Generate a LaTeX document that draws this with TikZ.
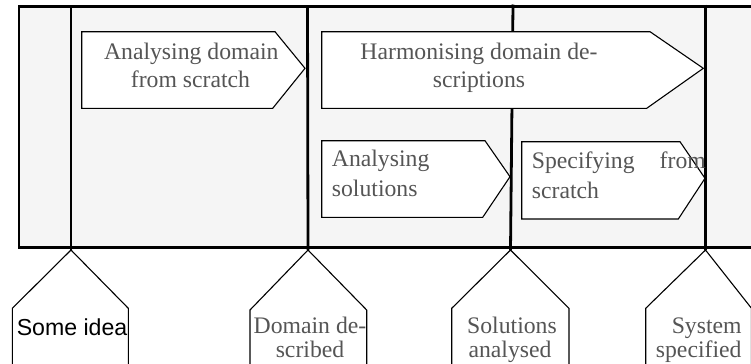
\documentclass[tikz,border=0pt]{standalone}
\usepackage{fontspec}
\setmainfont{Liberation Serif}
\newfontfamily\arialfont{Liberation Sans}
\definecolor{panel}{HTML}{F5F5F5}
\definecolor{ink}{HTML}{555555}
\tikzset{
  frame/.style={line width=2.8bp, line join=miter},
  phase/.style={line width=1.1bp, fill=white, line join=miter},
  milestone/.style={line width=1.1bp, fill=white, line join=miter},
  lbl/.style={inner sep=0pt, text=ink, font=\fontsize{23.8}{28}\selectfont, anchor=base},
  lbll/.style={lbl, anchor=base west},
}
\begin{document}
\begin{tikzpicture}[x=1bp, y=-1bp]
\useasboundingbox (0,0) rectangle (751,363);
\clip (0,0) rectangle (751,363);

% frame of the process lane
\fill[panel] (19,6.5) rectangle (760,247.5);
\draw[frame] (19,6.5) -- (760,6.5);
\draw[frame] (19,247.5) -- (760,247.5);
\draw[frame] (19,5.2) -- (19,248.8);

% milestone dividers
\coordinate (t1) at (71,6.5);   \coordinate (a1) at (71,250);
\coordinate (t2) at (307.5,6.5);  \coordinate (a2) at (308,250);
\coordinate (t3) at (513,4.5);  \coordinate (a3) at (510.5,250);
\coordinate (t4) at (705.5,4.5);  \coordinate (a4) at (705.5,250);
\draw[frame] (t1) -- (a1);
\draw[frame] (t2) -- (a2);
\draw[frame] (t3) -- (a3);
\draw[frame] (t4) -- (a4);

% phase arrows
\draw[phase] (81.7,31.7) -- (275,31.7) -- (305,68.3) -- (272.7,108.3) -- (81.7,108.3) -- cycle;
\draw[phase] (321.7,31.7) -- (650,31.7) -- (703.3,68.3) -- (646.7,108.3) -- (321.7,108.3) -- cycle;
\draw[phase] (321.7,140.7) -- (485,140.7) -- (510,176.7) -- (482.7,217.3) -- (321.7,217.3) -- cycle;
\draw[phase] (521.7,141.7) -- (680,141.7) -- (705,178.3) -- (678.3,219) -- (521.7,219) -- cycle;

\node[lbl] (p1a) at (191.3,59.3) {Analysing domain};
\node[lbl] (p1b) at (190.5,87.7) {from scratch};
\node[lbl] (p2a) at (479,59.3) {Harmonising domain de-};
\node[lbl] (p2b) at (479,87.7) {scriptions};
\node[lbll] (p3a) at (331.7,166.7) {Analysing};
\node[lbll] (p3b) at (331.7,196.7) {solutions};
\node[lbll] (p4a) at (531.7,168.3) {Specifying};
\node[lbl, anchor=base east] (p4c) at (706,168.3) {from};
\node[lbll] (p4b) at (531.7,198.3) {scratch};

% milestones
\draw[milestone] (12.3,375) -- (12.3,308.3) -- (a1) -- (128.3,308.3) -- (128.3,375);
\draw[milestone] (250,375) -- (250,310) -- (a2) -- (366.7,310) -- (366.7,375);
\draw[milestone] (451.7,375) -- (451.7,308.3) -- (a3) -- (569,308.3) -- (569,375);
\draw[milestone] (645.7,375) -- (645.7,308.3) -- (a4) -- (751.5,308.3) -- (751.5,375);

\node[lbl, text=black, font=\arialfont\fontsize{23.2}{28}\selectfont] (m1) at (72,335) {Some idea};
\node[lbl] (m2a) at (310,333) {Domain de-};
\node[lbl] (m2b) at (310,357.5) {scribed};
\node[lbl] (m3a) at (512,333) {Solutions};
\node[lbl] (m3b) at (510,357.5) {analysed};
\node[lbl] (m4a) at (706.7,333) {System};
\node[lbl] (m4b) at (698.7,357.5) {specified};
\end{tikzpicture}
\end{document}
